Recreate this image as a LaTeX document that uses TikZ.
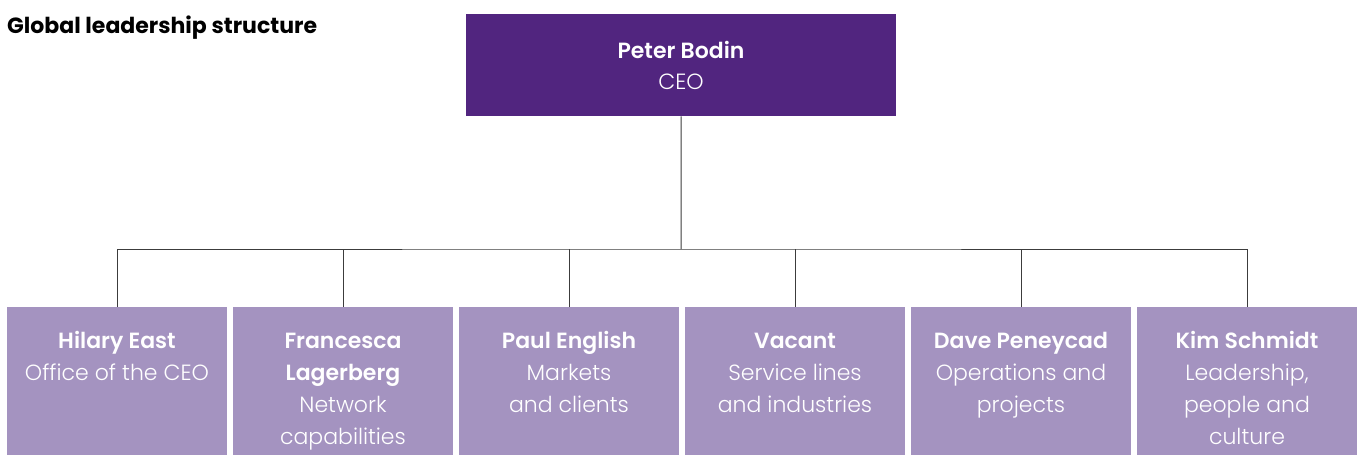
\documentclass[tikz,border=0pt]{standalone}
\usepackage{fontspec}
\setmainfont{Poppins}
\newfontfamily\lightfont{Poppins}[UprightFont=* Light]
\definecolor{ceopurple}{HTML}{51257F}
\definecolor{execlilac}{HTML}{A493C0}
\definecolor{linkgrey}{HTML}{3C3C3C}
\begin{document}
\begin{tikzpicture}[x=1pt,y=-1pt,
  ceobox/.style={fill=ceopurple,draw=none,inner sep=0pt,minimum width=430pt,minimum height=102pt,anchor=north west},
  execbox/.style={fill=execlilac,draw=none,inner sep=0pt,minimum width=220pt,minimum height=148pt,anchor=north west},
  boxtext/.style={text=white,anchor=base,align=center,inner sep=0pt,font=\fontsize{22}{32}\selectfont\lightfont},
  link/.style={draw=linkgrey,line width=1pt}]
\useasboundingbox (0,0) rectangle (1363,455);

% heading
\node[anchor=base west,inner sep=0pt,font=\fontsize{22}{24}\selectfont\bfseries] (title) at (7,34) {Global leadership structure};

% chief executive (text anchored on the baseline of its last line)
\node[ceobox] (ceo) at (466,14) {};
\node[boxtext,font=\fontsize{22}{31}\selectfont\lightfont] (ceotxt) at (681,89) {\textbf{Peter Bodin}\\CEO};

% executive boxes: index / name / lines of text / text
\foreach \i/\nm/\n/\txt in {
  0/hilary/2/{\textbf{Hilary East}\\Office of the CEO},
  1/francesca/4/{\textbf{Francesca}\\\textbf{Lagerberg}\\Network\\capabilities},
  2/paul/3/{\textbf{Paul English}\\Markets\\and clients},
  3/vacant/3/{\textbf{Vacant}\\Service lines\\and industries},
  4/dave/3/{\textbf{Dave Peneycad}\\Operations and\\projects},
  5/kim/4/{\textbf{Kim Schmidt}\\Leadership,\\people and\\culture}} {
  \node[execbox] (\nm) at ({7+226*\i},307) {};
  \node[boxtext] (\nm txt) at ({117+226*\i},{348+32*(\n-1)}) {\txt};
}

% reporting lines
\coordinate (bus) at (681,249);
\draw[link] (ceo.south) -- (bus);
\draw[link] (hilary.north) |- (bus) -| (kim.north);
\foreach \nm in {francesca,paul,vacant,dave}
  \draw[link] (\nm.north) -- (\nm.north |- bus);
\end{tikzpicture}
\end{document}
